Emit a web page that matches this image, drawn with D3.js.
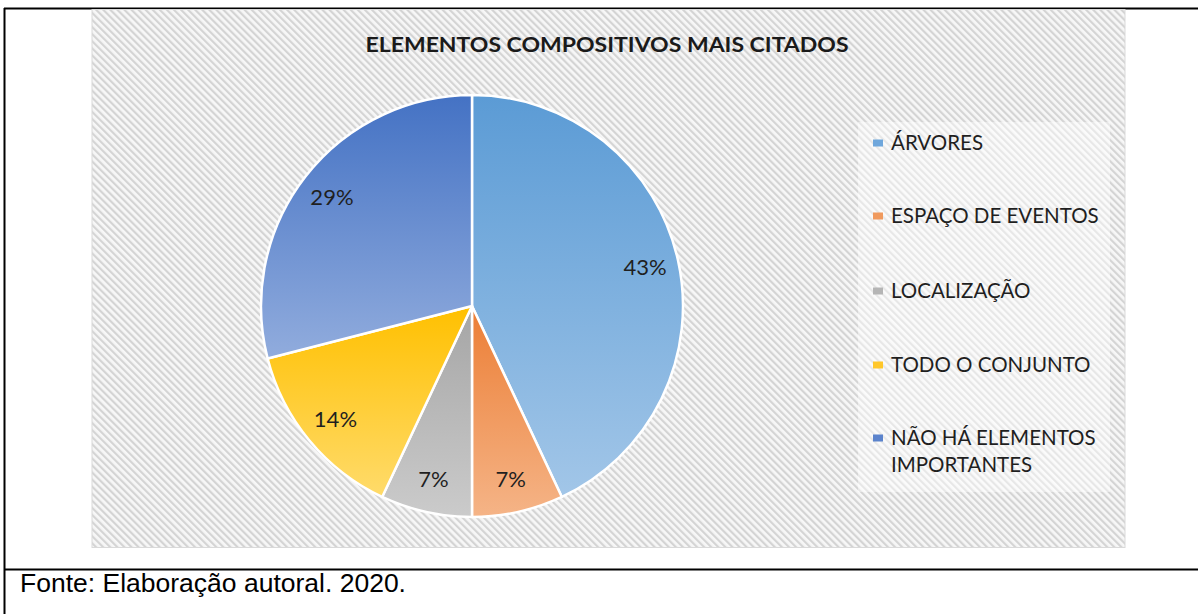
<!DOCTYPE html>
<html><head><meta charset="utf-8">
<script src="https://cdn.jsdelivr.net/npm/d3@7"></script>
<style>html,body{margin:0;padding:0;background:#fff;}svg{display:block;}</style>
</head><body>
<svg id="c" width="1198" height="614"></svg>
<script>
const categories = ["ÁRVORES","ESPAÇO DE EVENTOS","LOCALIZAÇÃO","TODO O CONJUNTO","NÃO HÁ ELEMENTOS IMPORTANTES"];
const legendLines = [["ÁRVORES"],["ESPAÇO DE EVENTOS"],["LOCALIZAÇÃO"],["TODO O CONJUNTO"],["NÃO HÁ ELEMENTOS","IMPORTANTES"]];
const values = [43,7,7,14,29];
const topColors = ["#5b9bd5","#ec7e35","#a5a5a5","#ffc000","#4472c4"];
const bottomColors = ["#a2c6e8","#f5b487","#cbcbcb","#ffdb6b","#91acdd"];
const legendColors = ["#6fa7dc","#f09a5e","#b5b5b5","#ffc72a","#5b83cc"];
const title = "ELEMENTOS COMPOSITIVOS MAIS CITADOS";
const source = "Fonte: Elaboração autoral. 2020.";

const svg = d3.select("#c");
const defs = svg.append("defs");
const pat = defs.append("pattern").attr("id","hatch").attr("patternUnits","userSpaceOnUse")
  .attr("width",5).attr("height",5).attr("patternTransform","rotate(-45)");
pat.append("rect").attr("width",5).attr("height",5).attr("fill","#f7f7f7");
pat.append("rect").attr("width",2.2).attr("height",5).attr("fill","#d4d4d4");

values.forEach((v,i)=>{
  const g = defs.append("linearGradient").attr("id","g"+i).attr("x1",0).attr("y1",0).attr("x2",0).attr("y2",1);
  g.append("stop").attr("offset","0%").attr("stop-color",topColors[i]);
  g.append("stop").attr("offset","100%").attr("stop-color",bottomColors[i]);
});

// table borders
svg.append("line").attr("x1",4).attr("x2",1198).attr("y1",8.5).attr("y2",8.5).attr("stroke","#000").attr("stroke-width",2);
svg.append("line").attr("x1",4.5).attr("x2",4.5).attr("y1",8).attr("y2",614).attr("stroke","#000").attr("stroke-width",2);
svg.append("line").attr("x1",4).attr("x2",1198).attr("y1",569.5).attr("y2",569.5).attr("stroke","#000").attr("stroke-width",2);

// chart area
svg.append("rect").attr("x",92).attr("y",9.5).attr("width",1033).attr("height",538)
  .attr("fill","url(#hatch)").attr("stroke","#d9d9d9").attr("stroke-width",1);

// legend background
svg.append("rect").attr("x",858).attr("y",122).attr("width",252).attr("height",370)
  .attr("fill","#fff").attr("opacity",0.45);

svg.append("text").attr("x",607).attr("y",52).attr("text-anchor","middle")
  .attr("font-family","Lato, 'Open Sans', sans-serif").attr("font-weight","bold").attr("font-size",20)
  .attr("textLength",483).attr("lengthAdjust","spacingAndGlyphs").attr("fill","#1a1a1a").text(title);

const cx = 472, cy = 306, r = 211;
const pie = d3.pie().sort(null).value(d=>d);
const arcs = pie(values);
const arc = d3.arc().innerRadius(0).outerRadius(r);
const labelArc = d3.arc().innerRadius(r*0.84).outerRadius(r*0.84);
const g = svg.append("g").attr("transform",`translate(${cx},${cy})`);
g.selectAll("path").data(arcs).join("path")
  .attr("d",arc).attr("fill",(d,i)=>`url(#g${i})`).attr("stroke","#fff").attr("stroke-width",2.5).attr("stroke-linejoin","round");
g.selectAll("text").data(arcs).join("text")
  .attr("transform",d=>{const c=labelArc.centroid(d);return `translate(${c[0]},${c[1]})`;})
  .attr("text-anchor","middle").attr("dy","0.36em")
  .attr("font-family","Lato, 'Open Sans', sans-serif").attr("font-size",22).attr("fill","#1f1f1f")
  .text(d=>d.data+"%");

// legend
const ly = [143,216,291,365,438];
const lg = svg.append("g");
legendLines.forEach((lines,i)=>{
  lg.append("rect").attr("x",873).attr("y",ly[i]-3.5).attr("width",10).attr("height",7).attr("fill",legendColors[i]);
  lines.forEach((t,j)=>{
    lg.append("text").attr("x",891).attr("y",ly[i]+7+j*27)
      .attr("font-family","Lato, 'Open Sans', sans-serif").attr("font-size",20.5).attr("fill","#1f1f1f").text(t);
  });
});

svg.append("text").attr("x",20).attr("y",592).attr("font-family","'Liberation Sans', Arial, sans-serif")
  .attr("font-size",26.5).attr("fill","#000").text(source);
</script>
</body></html>
